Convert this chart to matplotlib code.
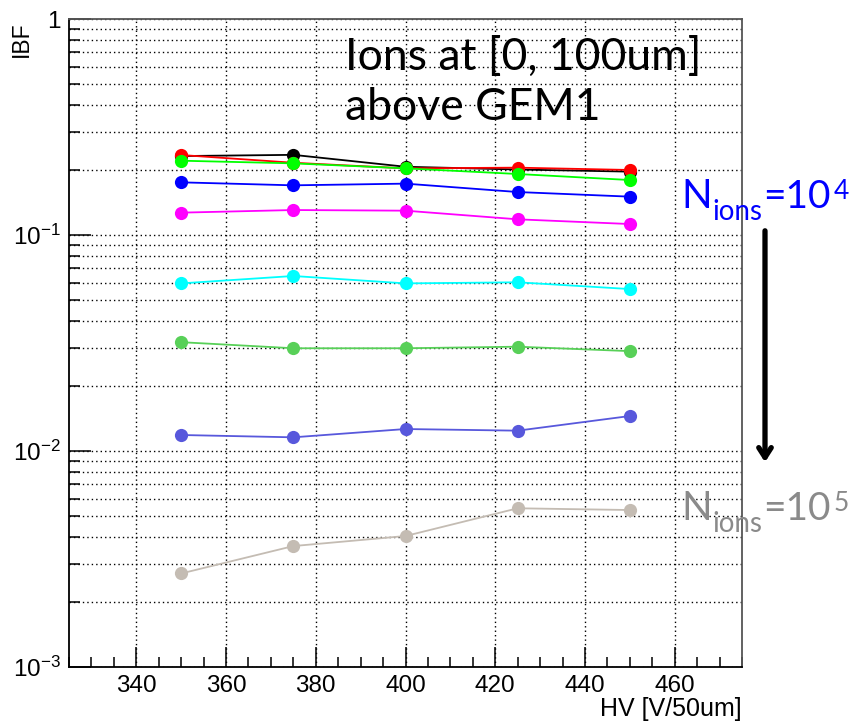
import matplotlib
matplotlib.use("Agg")
import matplotlib.pyplot as plt
from matplotlib.ticker import LogLocator, FixedLocator, MultipleLocator, NullFormatter, FixedFormatter

# ---- data ----
hv = [350, 375, 400, 425, 450]
ibf_black   = [0.232, 0.235, 0.207, 0.201, 0.1965]
ibf_red     = [0.2346, 0.216, 0.2035, 0.205, 0.200]
ibf_green   = [0.2208, 0.2146, 0.2035, 0.1916, 0.1797]
ibf_blue    = [0.1753, 0.1698, 0.1729, 0.1581, 0.1505]
ibf_magenta = [0.1269, 0.1305, 0.1296, 0.1182, 0.1124]
ibf_cyan    = [0.0597, 0.0646, 0.0597, 0.0604, 0.0562]
ibf_green2  = [0.0319, 0.0299, 0.0299, 0.0304, 0.0290]
ibf_blue2   = [0.01186, 0.01157, 0.01264, 0.01242, 0.01452]
ibf_grey    = [0.00271, 0.00363, 0.00404, 0.00543, 0.00533]

x_ticks = [340, 360, 380, 400, 420, 440, 460]
x_ticklabels = ["340", "360", "380", "400", "420", "440", "460"]
y_ticks = [1e-3, 1e-2, 1e-1, 1]
y_ticklabels = [r"$\mathregular{10^{-3}}$", r"$\mathregular{10^{-2}}$", r"$\mathregular{10^{-1}}$", "1"]

series = [
    (ibf_grey, "#c4bcb3"),
    (ibf_blue2, "#5858dc"),
    (ibf_green2, "#58d058"),
    (ibf_cyan, "#00ffff"),
    (ibf_magenta, "#ff00ff"),
    (ibf_blue, "#0000ff"),
    (ibf_black, "#000000"),
    (ibf_red, "#ff0000"),
    (ibf_green, "#00ff00"),
]

plt.rcParams['font.family'] = ['Liberation Sans', 'DejaVu Sans']

W, H = 852, 724
fig = plt.figure(figsize=(W / 100, H / 100), dpi=100)
L, R, T, B = 69, 742, 19, 667
ax = fig.add_axes([L / W, 1 - B / H, (R - L) / W, (B - T) / H])

ax.set_yscale('log')
ax.set_xlim(325, 475)
ax.set_ylim(1e-3, 1)

for vals, col in series:
    ax.plot(hv, vals, color=col, lw=1.3, marker='o', markersize=9.5,
            markeredgewidth=0, zorder=3)

# ticks
ax.xaxis.set_major_locator(FixedLocator(x_ticks))
ax.xaxis.set_major_formatter(FixedFormatter(x_ticklabels))
ax.xaxis.set_minor_locator(MultipleLocator(5))
ax.yaxis.set_major_locator(FixedLocator(y_ticks))
ax.yaxis.set_major_formatter(FixedFormatter(y_ticklabels))
ax.yaxis.set_minor_locator(LogLocator(base=10, subs=[2, 3, 4, 5, 6, 7, 8, 9], numticks=20))
ax.yaxis.set_minor_formatter(NullFormatter())

ax.tick_params(axis='x', which='major', direction='in', length=14.5, width=1.1, labelsize=17.5, pad=6)
ax.tick_params(axis='x', which='minor', direction='in', length=7.2, width=1.1)
ax.tick_params(axis='y', which='major', direction='in', length=16, width=1.1, labelsize=17.5, pad=6)
ax.tick_params(axis='y', which='minor', direction='in', length=8, width=1.1)
ax.tick_params(top=False, right=False, which='both')

# grid
ax.grid(which='major', axis='x', color='black', ls=(0, (1, 2.2)), lw=1.0)
ax.grid(which='both', axis='y', color='black', ls=(0, (1, 2.2)), lw=1.0)
ax.set_axisbelow(True)

for s in ['left', 'bottom']:
    ax.spines[s].set_color('black')
    ax.spines[s].set_linewidth(1.3)
for s in ['top', 'right']:
    ax.spines[s].set_color('#555555')
    ax.spines[s].set_linewidth(1.3)

def px(x, y):
    return x / W, 1 - y / H

# axis titles
fig.text(*px(742, 716), "HV [V/50um]", ha='right', va='baseline', fontsize=18)
fig.text(*px(33, 21), "IBF", ha='right', va='top', rotation=90, fontsize=16.5)

# annotations
tfont = ['Lato', 'DejaVu Sans']
fig.text(*px(345, 70), "Ions at [0, 100um]", family=tfont, fontsize=32, ha='left', va='baseline')
fig.text(*px(345, 120), "above GEM1", family=tfont, fontsize=32, ha='left', va='baseline')

def nions(y0, exp, col):
    fig.text(*px(681, y0), "N", family=tfont, fontsize=29, color=col, ha='left', va='baseline')
    fig.text(*px(712, y0 + 12), "ions", family=tfont, fontsize=20, color=col, ha='left', va='baseline')
    fig.text(*px(763, y0), "=10", family=tfont, fontsize=28, color=col, ha='left', va='baseline')
    fig.text(*px(834, y0 - 9), exp, family=tfont, fontsize=19, color=col, ha='left', va='baseline')

nions(208, "4", '#0000ff')
nions(520, "5", '#8a8a8a')

ax.annotate("", xy=(765, H - 465), xycoords='figure pixels',
            xytext=(765, H - 228), textcoords='figure pixels',
            arrowprops=dict(arrowstyle='->,head_length=0.7,head_width=0.45', lw=3.8, color='black'),
            annotation_clip=False)

fig.savefig("out.png", dpi=100)
